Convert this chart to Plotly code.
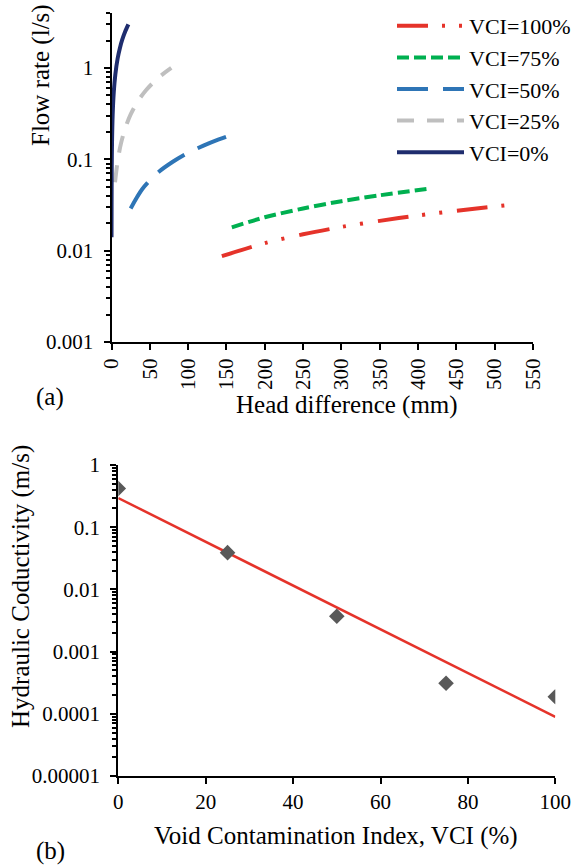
import numpy as np
import plotly.graph_objects as go

FONT = "Liberation Serif"
W, H = 579, 865

# ---- Panel (a): flow rate against head difference, one curve per VCI level ----
head_vci100 = [144, 200, 250, 300, 350, 400, 450, 524]
flow_vci100 = [0.0087, 0.0121, 0.0151, 0.0182, 0.0212, 0.0243, 0.0273, 0.032]

head_vci75 = [157, 200, 250, 300, 350, 417]
flow_vci75 = [0.018, 0.0232, 0.029, 0.0348, 0.0404, 0.048]

head_vci50 = [25, 40, 60, 80, 100, 120, 140, 155]
flow_vci50 = [0.029, 0.047, 0.071, 0.094, 0.118, 0.141, 0.165, 0.183]

head_vci25 = [4.6, 8, 12, 18, 25, 35, 45, 55, 65, 78]
flow_vci25 = [0.056, 0.095, 0.145, 0.22, 0.31, 0.44, 0.57, 0.70, 0.83, 1.0]

head_vci0 = [0.04, 0.1, 0.3, 0.7, 1.5, 3, 5, 8, 11, 14, 18, 22]
flow_vci0 = [0.014, 0.03, 0.078, 0.16, 0.305, 0.55, 0.85, 1.27, 1.66, 2.04, 2.52, 3.0]

series_names = ["VCI=100%", "VCI=75%", "VCI=50%", "VCI=25%", "VCI=0%"]

head_ticks = list(range(0, 551, 50))
flow_tickvals = [0.001, 0.01, 0.1, 1]
flow_ticktext = ["0.001", "0.01", "0.1", "1"]

# ---- Panel (b): hydraulic conductivity against VCI ----
vci = [0, 25, 50, 75, 100]
conductivity = [0.42, 0.039, 0.0037, 0.00031, 0.000188]

vci_ticks = [0, 20, 40, 60, 80, 100]
k_tickvals = [0.00001, 0.0001, 0.001, 0.01, 0.1, 1]
k_ticktext = ["0.00001", "0.0001", "0.001", "0.01", "0.1", "1"]


def px_x(x):
    return x / W


def px_y(y):
    return 1 - y / H


def minor_log(lo_exp, hi_exp, top=None):
    vals = []
    for e in range(lo_exp, hi_exp + 1):
        for m in range(2, 10):
            v = m * 10.0 ** e
            if top is None or v <= top:
                vals.append(v)
    return vals


styles = [
    dict(color="#E5332A", dash="31px,14px,3px,14px,3px,15px"),
    dict(color="#00B050", dash="12px,5px"),
    dict(color="#2E75B6", dash="31px,15px"),
    dict(color="#BFBFBF", dash="17px,13px"),
    dict(color="#1F2D6E", dash="solid"),
]
heads = [head_vci100, head_vci75, head_vci50, head_vci25, head_vci0]
flows = [flow_vci100, flow_vci75, flow_vci50, flow_vci25, flow_vci0]

fig = go.Figure()
for name, hx, qy, st in zip(series_names, heads, flows, styles):
    fig.add_trace(go.Scatter(
        x=hx, y=qy, name=name, mode="lines",
        line=dict(color=st["color"], dash=st["dash"], width=4, shape="spline", smoothing=0.8),
        xaxis="x", yaxis="y",
    ))

# exponential trend fitted through the conductivity points
coef = np.polyfit(vci, np.log10(conductivity), 1)
trend_x = np.array([0, 100])
trend_y = 10 ** np.polyval(coef, trend_x)

fig.add_trace(go.Scatter(
    x=trend_x, y=trend_y, mode="lines", showlegend=False,
    line=dict(color="#E5332A", width=2.5), xaxis="x2", yaxis="y2",
))
fig.add_trace(go.Scatter(
    x=vci, y=conductivity, mode="markers", showlegend=False,
    marker=dict(symbol="diamond", size=12, color="#595959"), xaxis="x2", yaxis="y2",
))

tick_font = dict(family=FONT, size=21, color="black")
axis_common = dict(
    showline=True, linecolor="black", linewidth=2, showgrid=False, zeroline=False,
    ticks="outside", ticklen=6, tickwidth=1.5, tickcolor="black", tickfont=tick_font,
    automargin=False,
)

fig.update_layout(
    width=W, height=H,
    margin=dict(l=0, r=0, t=0, b=0, autoexpand=False),
    paper_bgcolor="white", plot_bgcolor="white",
    font=dict(family=FONT, color="black"),
    xaxis=dict(
        domain=[px_x(111.5), px_x(533)], range=[0, 550], anchor="y",
        tickmode="array", tickvals=head_ticks, ticktext=[str(v) for v in head_ticks],
        tickangle=-90, **axis_common,
    ),
    yaxis=dict(
        domain=[px_y(342), px_y(13)], type="log", range=[-3, np.log10(4)], anchor="x",
        tickmode="array", tickvals=flow_tickvals, ticktext=flow_ticktext,
        ticklabelstandoff=6,
        minor=dict(tickmode="array", tickvals=minor_log(-3, 0, top=4),
                   ticks="outside", ticklen=4, tickwidth=1.5, tickcolor="black", showgrid=False),
        **axis_common,
    ),
    xaxis2=dict(
        domain=[px_x(118.3), px_x(555.3)], range=[0, 100], anchor="y2",
        tickmode="array", tickvals=vci_ticks, ticktext=[str(v) for v in vci_ticks],
        **axis_common,
    ),
    yaxis2=dict(
        domain=[px_y(776), px_y(465)], type="log", range=[-5, 0], anchor="x2",
        tickmode="array", tickvals=k_tickvals, ticktext=k_ticktext,
        ticklabelstandoff=6,
        minor=dict(tickmode="array", tickvals=minor_log(-5, -1),
                   ticks="outside", ticklen=4, tickwidth=1.5, tickcolor="black", showgrid=False),
        **axis_common,
    ),
    legend=dict(
        x=px_x(392), y=px_y(5), xanchor="left", yanchor="top",
        font=dict(family=FONT, size=22, color="black"),
        itemwidth=67, bgcolor="rgba(0,0,0,0)", tracegroupgap=0,
    ),
    showlegend=True,
)

title_font = dict(family=FONT, size=25, color="black")
labels = [
    dict(text="Flow rate (l/s)", x=41, y=75, textangle=-90),
    dict(text="Head difference (mm)", x=347, y=405, textangle=0),
    dict(text="(a)", x=50, y=397, textangle=0),
    dict(text="Hydraulic Coductivity (m/s)", x=21, y=587, textangle=-90),
    dict(text="Void Contamination Index, VCI (%)", x=336, y=836, textangle=0),
    dict(text="(b)", x=51, y=851, textangle=0),
]
for lab in labels:
    fig.add_annotation(
        text=lab["text"], x=px_x(lab["x"]), y=px_y(lab["y"]),
        xref="paper", yref="paper", xanchor="center", yanchor="middle",
        textangle=lab["textangle"], showarrow=False, font=title_font,
    )

fig.write_html("out.html")
